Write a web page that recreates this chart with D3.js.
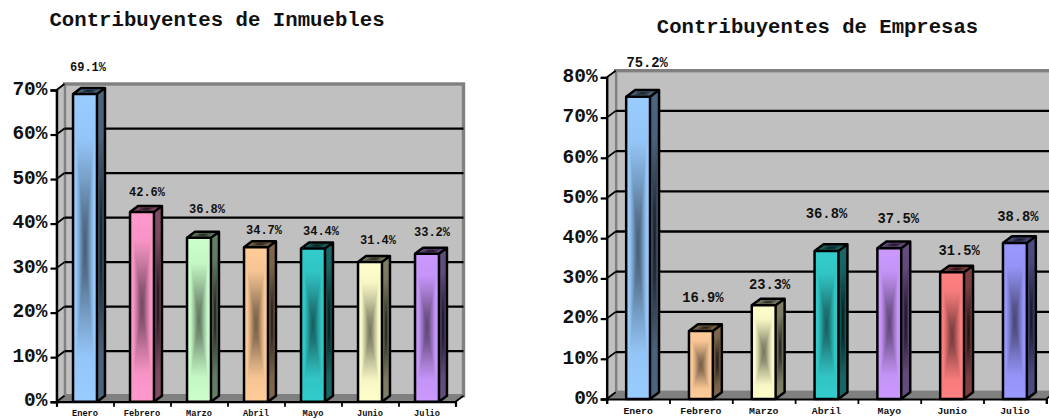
<!DOCTYPE html>
<html>
<head>
<meta charset="utf-8">
<script src="https://cdn.jsdelivr.net/npm/d3@7"></script>
<style>
  html, body { margin: 0; padding: 0; background: #fff; overflow: hidden; }
  svg { display: block; }
  text { font-family: "Liberation Mono", "Courier New", monospace; font-weight: bold; fill: #111; }
</style>
</head>
<body>
<svg id="chart" width="1049" height="419"></svg>
<script>
// Contribuyentes de Inmuebles
const mesesInmuebles = ["Enero", "Febrero", "Marzo", "Abril", "Mayo", "Junio", "Julio"];
const valoresInmuebles = [69.1, 42.6, 36.8, 34.7, 34.4, 31.4, 33.2];
const coloresInmuebles = ["#99ccff", "#ff99cc", "#ccffcc", "#ffcc99", "#33cccc", "#ffffcc", "#cc99ff"];
const ticksInmuebles = [0, 10, 20, 30, 40, 50, 60, 70];

// Contribuyentes de Empresas
const mesesEmpresas = ["Enero", "Febrero", "Marzo", "Abril", "Mayo", "Junio", "Julio"];
const valoresEmpresas = [75.2, 16.9, 23.3, 36.8, 37.5, 31.5, 38.8];
const coloresEmpresas = ["#99ccff", "#ffcc99", "#ffffcc", "#33cccc", "#cc99ff", "#ff8080", "#9999ff"];
const ticksEmpresas = [0, 10, 20, 30, 40, 50, 60, 70, 80];

// Hand placement of the value labels: horizontal nudge and lift above the bar top
const nudgeInmuebles = [3, 5, 8, 8, 8, 8, 5];
const liftInmuebles = [26.5, 20, 29, 17, 17, 22, 22];
const nudgeEmpresas = [9, 2, 6, 0, 9, 7, 3];
const liftEmpresas = [34, 33, 21, 37, 30, 22, 26];

const svg = d3.select("#chart");
const defs = svg.append("defs");
const madeGradients = new Set();

// Four linear ramps (one per side) emulate a rectangular "from centre" fill.
function ramps(color, edgeK, centerK) {
  const id = "g" + color.slice(1) + "-" + Math.round(edgeK * 100);
  if (madeGradients.has(id)) return id;
  madeGradients.add(id);
  const c = d3.color(color);
  const shade = k => d3.rgb(c.r * k, c.g * k, c.b * k).formatHex();
  const span = edgeK - centerK;
  const stops = [
    [0, edgeK], [0.3, edgeK - span * 0.06], [0.55, edgeK - span * 0.4], [0.8, edgeK - span * 0.8], [1, centerK]
  ];
  [["l", 0, 0, 1, 0], ["r", 1, 0, 0, 0], ["t", 0, 0, 0, 1], ["b", 0, 1, 0, 0]].forEach(([s, x1, y1, x2, y2]) => {
    defs.append("linearGradient")
      .attr("id", id + s)
      .attr("x1", x1).attr("y1", y1).attr("x2", x2).attr("y2", y2)
      .selectAll("stop").data(stops).join("stop")
      .attr("offset", d => d[0])
      .attr("stop-color", d => shade(d[1]));
  });
  return id;
}

// One bar face: a w×h box under the given transform, filled with the four ramps.
function face(parent, transform, w, h, color, edgeK, centerK) {
  const id = ramps(color, edgeK, centerK);
  const g = parent.append("g").attr("transform", transform).attr("shape-rendering", "crispEdges");
  const cx = w / 2, cy = h / 2;
  const tris = [
    ["t", [[0, 0], [w, 0], [cx, cy]]],
    ["b", [[0, h], [w, h], [cx, cy]]],
    ["l", [[0, 0], [0, h], [cx, cy]]],
    ["r", [[w, 0], [w, h], [cx, cy]]]
  ];
  g.selectAll("polygon").data(tris).join("polygon")
    .attr("points", d => d[1].map(p => p.join(",")).join(" "))
    .attr("fill", d => `url(#${id}${d[0]})`);
}

function drawChart(cfg) {
  const { months, values, colors, ticks, left, right, bottom, top, maxValue, dx, dy, padding } = cfg;
  const g = svg.append("g");

  const y = d3.scaleLinear().domain([0, maxValue]).range([bottom, top]);
  const x = d3.scaleBand().domain(months).range([left, right]).paddingInner(padding).paddingOuter(padding / 2);
  const edges = d3.scaleLinear().domain([0, months.length]).range([left, right]);
  const wallTop = y(maxValue) - dy;
  const wallBottom = y(0) - dy;

  // Back wall, side wall, floor
  g.append("rect")
    .attr("x", left + dx).attr("y", wallTop)
    .attr("width", right - left).attr("height", wallBottom - wallTop)
    .attr("fill", "#c0c0c0").attr("stroke", "#808080").attr("stroke-width", 3.4);
  g.append("polygon")
    .attr("points", [[left, y(0)], [left, y(maxValue)], [left + dx, wallTop], [left + dx, wallBottom]].join(" "))
    .attr("fill", "#c0c0c0").attr("stroke", "#808080").attr("stroke-width", 1.5);
  g.append("polygon")
    .attr("points", [[left, y(0)], [left + dx, wallBottom], [right + dx, wallBottom], [right, y(0)]].join(" "))
    .attr("fill", "#808080");

  // Gridlines on the wall and their connectors to the axis
  const inner = ticks.filter(t => t > 0 && t < maxValue);
  g.selectAll(".grid").data(inner).join("line")
    .attr("x1", left + dx).attr("x2", right + dx)
    .attr("y1", d => y(d) - dy).attr("y2", d => y(d) - dy)
    .attr("stroke", "#000").attr("stroke-width", 2.3);
  g.selectAll(".connector").data(ticks).join("line")
    .attr("x1", left).attr("x2", left + dx)
    .attr("y1", d => y(d)).attr("y2", d => y(d) - dy)
    .attr("stroke", "#000").attr("stroke-width", 1.8);
  g.append("line")
    .attr("x1", right).attr("x2", right + dx)
    .attr("y1", y(0)).attr("y2", y(0) - dy)
    .attr("stroke", "#000").attr("stroke-width", 1.8);

  // Bars
  const bw = x.bandwidth();
  const rows = months.map((m, i) => ({ m, v: values[i], color: colors[i] }));
  rows.forEach(d => {
    const x0 = x(d.m), y0 = y(d.v), h = y(0) - y0;
    const bar = g.append("g");
    face(bar, `translate(${x0},${y0})`, bw, h, d.color, 1, 0.46);
    face(bar, `matrix(1,${-dy / dx},0,1,${x0 + bw},${y0})`, dx, h, d.color, 0.5, 0.14);
    face(bar, `matrix(1,0,${-dx / dy},1,${x0 + dx},${y0 - dy})`, bw, dy, d.color, 0.5, 0.3);
    bar.append("path")
      .attr("d", `M${x0},${y0}h${bw}v${h}h${-bw}z` +
                 `M${x0},${y0}l${dx},${-dy}h${bw}l${-dx},${dy}` +
                 `M${x0 + bw + dx},${y0 - dy}v${h}l${-dx},${dy}`)
      .attr("fill", "none").attr("stroke", "#000").attr("stroke-width", 2.5)
      .attr("stroke-linejoin", "round");
  });

  // Value axis
  const yAxis = g.append("g")
    .attr("transform", `translate(${left},0)`)
    .call(d3.axisLeft(y).tickValues(ticks).tickSize(6).tickPadding(3).tickFormat(d => d + "%"));
  yAxis.select(".domain").attr("stroke", "#000").attr("stroke-width", 2.4);
  yAxis.selectAll(".tick line").attr("stroke", "#000").attr("stroke-width", 2.2);
  yAxis.selectAll("text")
    .attr("dy", "0.22em")
    .attr("font-family", null)
    .style("font-size", cfg.tickFont + "px");

  // Month axis: separators at the band edges, names at the band centres
  const edgeAxis = g.append("g")
    .attr("transform", `translate(0,${bottom})`)
    .call(d3.axisBottom(edges).ticks(months.length).tickSize(5).tickFormat(""));
  edgeAxis.select(".domain").attr("stroke", "#000").attr("stroke-width", 2.2);
  edgeAxis.selectAll(".tick line").attr("stroke", "#000").attr("stroke-width", 1.8);

  const xAxis = g.append("g")
    .attr("transform", `translate(0,${bottom})`)
    .call(d3.axisBottom(x).tickSize(0).tickPadding(cfg.monthPad));
  xAxis.select(".domain").remove();
  xAxis.selectAll("text").attr("font-family", null).style("font-size", cfg.monthFont + "px");

  // Value labels
  g.selectAll(".value").data(rows).join("text")
    .attr("class", "value")
    .attr("x", (d, i) => x(d.m) + bw / 2 + cfg.nudge[i])
    .attr("y", (d, i) => y(d.v) - cfg.lift[i])
    .attr("dy", "0.32em")
    .attr("text-anchor", "middle")
    .style("font-size", cfg.labelFont + "px")
    .text(d => d.v.toFixed(1) + "%");

  // Title
  g.append("text")
    .attr("x", cfg.titleX).attr("y", cfg.titleY)
    .attr("text-anchor", "middle")
    .style("font-size", cfg.titleFont + "px")
    .text(cfg.title);
}

drawChart({
  title: "Contribuyentes de Inmuebles", titleX: 217, titleY: 26, titleFont: 20.7,
  months: mesesInmuebles, values: valoresInmuebles, colors: coloresInmuebles, ticks: ticksInmuebles,
  nudge: nudgeInmuebles, lift: liftInmuebles,
  left: 56.5, right: 455.5, bottom: 401.7, top: 90, maxValue: 70, dx: 8, dy: 6, padding: 0.58,
  tickFont: 19.5, labelFont: 12, monthFont: 8.7, monthPad: 8
});

drawChart({
  title: "Contribuyentes de Empresas", titleX: 817.5, titleY: 33, titleFont: 20.6,
  months: mesesEmpresas, values: valoresEmpresas, colors: coloresEmpresas, ticks: ticksEmpresas,
  nudge: nudgeEmpresas, lift: liftEmpresas,
  left: 606.7, right: 1046.3, bottom: 399, top: 77.4, maxValue: 80, dx: 9, dy: 6.7, padding: 0.62,
  tickFont: 19.5, labelFont: 13.8, monthFont: 9.8, monthPad: 8
});
</script>
</body>
</html>
